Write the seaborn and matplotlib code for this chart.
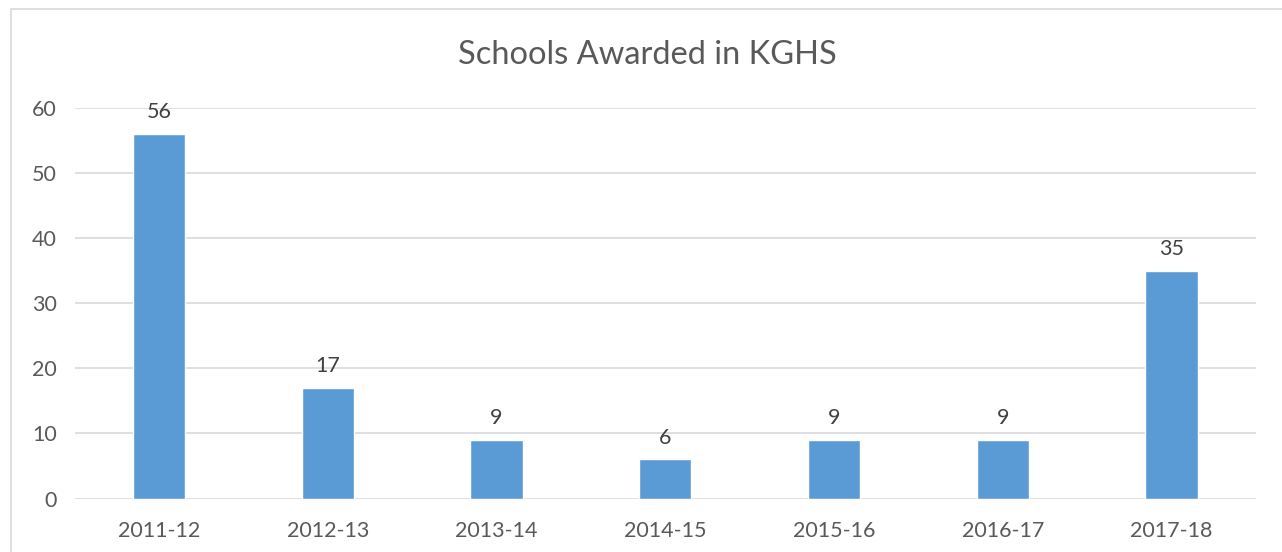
import matplotlib
matplotlib.use('Agg')
import matplotlib.pyplot as plt
import seaborn as sns
import pandas as pd
from matplotlib.patches import Rectangle

# 연도별 수상 학교 수
years = ['2011-12', '2012-13', '2013-14', '2014-15', '2015-16', '2016-17', '2017-18']
schools = [56, 17, 9, 6, 9, 9, 35]

df = pd.DataFrame({'year': years, 'schools': schools})

sns.set_style('white')
plt.rcParams['font.family'] = ['Lato', 'DejaVu Sans']

fig = plt.figure(figsize=(12.82, 5.52), dpi=100)
ax = fig.add_axes([0.0582, 0.0969, 0.9215, 0.7074])

sns.barplot(data=df, x='year', y='schools', color='#5B9BD5', saturation=1,
            width=0.31, ax=ax, zorder=3)

for i, v in enumerate(schools):
    ax.text(i, v + 1.8, str(v), ha='center', va='bottom', fontsize=15.5, color='#404040')

ax.set_ylim(0, 60)
ax.set_yticks(range(0, 61, 10))
ax.yaxis.grid(True, color='#D9D9D9', linewidth=1.2, zorder=0)
ax.set_axisbelow(True)
for s in ax.spines.values():
    s.set_visible(False)
ax.tick_params(axis='both', length=0, labelsize=15.5, labelcolor='#595959')
ax.tick_params(axis='y', pad=13)
ax.tick_params(axis='x', pad=16)
ax.set_xlabel('')
ax.set_ylabel('')

fig.text(0.505, 0.90, 'Schools Awarded in KGHS', ha='center', va='center',
         fontsize=23.5, color='#595959')

# 바깥 테두리
fig.patches.append(Rectangle((11 / 1282, -0.1), 1.2, 1 - 9 / 552 + 0.1,
                             transform=fig.transFigure, fill=False,
                             edgecolor='#D9D9D9', linewidth=1.2))

fig.savefig('out.png', dpi=100)
